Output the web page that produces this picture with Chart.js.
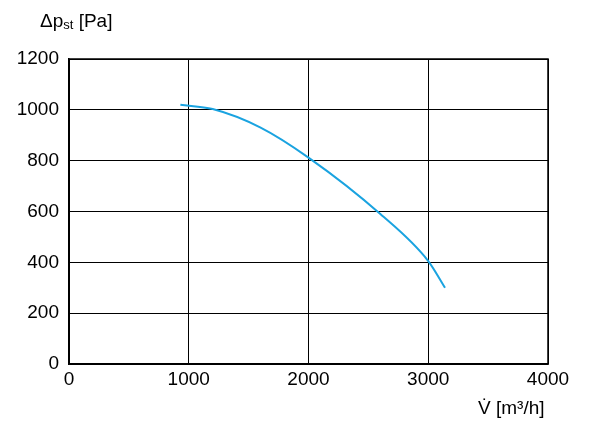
<!DOCTYPE html>
<html><head>
<script src="https://cdn.jsdelivr.net/npm/chart.js@4"></script>
<style>body{margin:0;background:#fff}#wrap{width:600px;height:424px}</style>
</head><body><div id="wrap"><canvas id="c"></canvas></div>
<script>
const flow = [930,1200,1600,2000,2600,3000,3140];
const pressure = [1020,1003,930,812,590,405,300];
const xTicks = [0,1000,2000,3000,4000];
const yTicks = [0,200,400,600,800,1000,1200];
const FONT = "'Liberation Sans Narrow','Liberation Sans',Arial,sans-serif";

const labels = {
  id: 'labels',
  afterDraw(chart) {
    const ctx = chart.ctx;
    ctx.save();
    ctx.fillStyle = '#000';
    ctx.textBaseline = 'alphabetic';
    ctx.font = '19px ' + FONT;
    ctx.fillText('\u0394p', 40, 27);
    let w = ctx.measureText('\u0394p').width;
    ctx.font = '13px ' + FONT;
    ctx.fillText('st', 40 + w, 29);
    let w2 = ctx.measureText('st').width;
    ctx.font = '19px ' + FONT;
    ctx.fillText(' [Pa]', 40 + w + w2, 27);
    ctx.fillText('V\u0307 [m\u00B3/h]', 478, 414);
    ctx.restore();
  }
};

new Chart(document.getElementById('c'), {
  type: 'line',
  data: {
    datasets: [{
      data: flow.map((x, i) => ({x: x, y: pressure[i]})),
      borderColor: '#1aa3e0',
      borderWidth: 2,
      pointRadius: 0,
      cubicInterpolationMode: 'monotone',
      fill: false
    }]
  },
  options: {
    responsive: true,
    maintainAspectRatio: false,
    animation: false,
    layout: {padding: {top: 59, right: 52, left: 0, bottom: 0}},
    plugins: {legend: {display: false}, tooltip: {enabled: false}},
    scales: {
      x: {
        type: 'linear', min: 0, max: 4000,
        afterBuildTicks: s => { s.ticks = xTicks.map(v => ({value: v})); },
        afterFit: s => { s.height = 60; },
        grid: {color: '#000', lineWidth: 1, drawTicks: false},
        border: {color: '#000', width: 1.5},
        ticks: {color: '#000', font: {family: FONT, size: 19}, padding: 4, maxRotation: 0,
                callback: v => String(v)}
      },
      y: {
        min: 0, max: 1200,
        afterBuildTicks: s => { s.ticks = yTicks.map(v => ({value: v})); },
        afterFit: s => { s.width = 69; },
        grid: {color: '#000', lineWidth: 1, drawTicks: false},
        border: {color: '#000', width: 1.5},
        ticks: {color: '#000', font: {family: FONT, size: 19}, padding: 10,
                callback: v => String(v)}
      }
    }
  },
  plugins: [labels, {
    id: 'frame',
    afterDraw(chart) {
      const a = chart.chartArea, ctx = chart.ctx;
      ctx.save(); ctx.strokeStyle = '#000'; ctx.lineWidth = 1.5;
      ctx.strokeRect(a.left, a.top, a.right - a.left, a.bottom - a.top);
      ctx.restore();
    }
  }]
});
</script></body></html>
